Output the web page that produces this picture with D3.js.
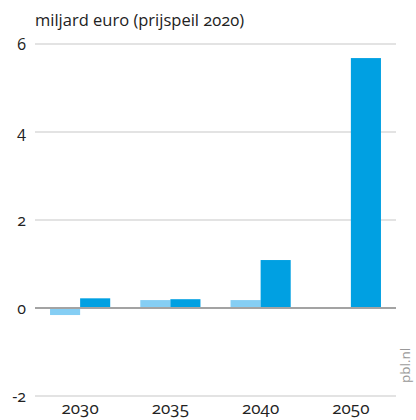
<!DOCTYPE html>
<html><head><meta charset="utf-8">
<script src="https://cdn.jsdelivr.net/npm/d3@7"></script>
<style>
html,body{margin:0;padding:0;background:#fff;}
svg{display:block;font-family:"Open Sans",sans-serif;font-variant-numeric:oldstyle-nums;font-feature-settings:"onum";}
</style></head><body>
<svg id="c" width="416" height="420"></svg>
<script>
const categories = ["2030","2035","2040","2050"];
const seriesLight = [-0.16, 0.18, 0.18, 0.01];
const seriesDark = [0.22, 0.2, 1.09, 5.68];
const yTicks = [-2, 0, 2, 4, 6];
const title = "miljard euro (prijspeil 2020)";
const source = "pbl.nl";

(function(){
const svg = d3.select("#c");
const mL = 35, mR = 396, mT = 44, mB = 396;
const y = d3.scaleLinear().domain([-2, 6]).range([mB, mT]);
const x = d3.scaleBand().domain(categories).range([mL, mR]).paddingInner(1/3).paddingOuter(1/6);
const xs = d3.scaleBand().domain(["light","dark"]).range([0, x.bandwidth()]);

svg.append("g").selectAll("line").data(yTicks.filter(d => d !== 0)).join("line")
  .attr("x1", mL).attr("x2", mR)
  .attr("y1", d => y(d)).attr("y2", d => y(d))
  .attr("stroke", "#dadada").attr("stroke-width", 1.5);

svg.append("g").selectAll("text").data(yTicks).join("text")
  .attr("x", 26).attr("y", d => y(d)).attr("dy", "0.35em")
  .attr("text-anchor", "end").attr("font-size", 16).attr("fill", "#222")
  .text(d => d);

const data = categories.map((c, i) => ({c, light: seriesLight[i], dark: seriesDark[i]}));
const g = svg.append("g");
data.forEach(d => {
  [["light", "#85cef4"], ["dark", "#00a0e2"]].forEach(([k, col]) => {
    const v = d[k];
    g.append("rect")
      .attr("x", x(d.c) + xs(k)).attr("width", xs.bandwidth())
      .attr("y", y(Math.max(0, v))).attr("height", Math.abs(y(v) - y(0)))
      .attr("fill", col);
  });
});

svg.append("line").attr("x1", mL).attr("x2", mR)
  .attr("y1", y(0)).attr("y2", y(0)).attr("stroke", "#a3a3a3").attr("stroke-width", 2);

svg.append("g").selectAll("text").data(categories).join("text")
  .attr("x", d => x(d) + x.bandwidth()/2).attr("y", 414)
  .attr("text-anchor", "middle").attr("font-size", 17).attr("fill", "#222")
  .text(d => d);

svg.append("text").attr("x", 35).attr("y", 26).attr("font-size", 16.5).attr("fill", "#222").text(title);

svg.append("text").attr("transform", "translate(410,383) rotate(-90)")
  .attr("font-size", 13.5).attr("fill", "#999").text(source);
})();
</script>
</body></html>
